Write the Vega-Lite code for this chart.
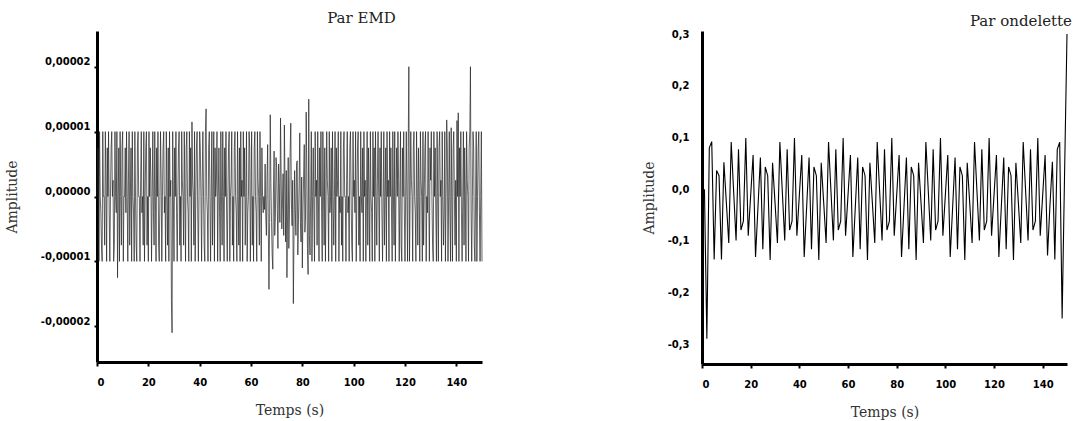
{
"$schema": "https://vega.github.io/schema/vega-lite/v6.json",
"padding": {"left": 5, "top": 11, "right": 2, "bottom": 2},
"spacing": 158,
"config": {
  "locale": {"number": {"decimal": ",", "thousands": " ", "grouping": [3], "currency": ["", " €"], "minus": "-"}},
  "view": {"stroke": null},
  "axis": {"grid": false, "domainColor": "black", "domainWidth": 3, "tickColor": "black", "tickWidth": 2, "tickSize": 4, "labelFont": "DejaVu Sans", "labelFontWeight": "bold", "labelFontSize": 10, "labelColor": "black", "titleFont": "DejaVu Serif", "titleFontWeight": "normal", "titleFontSize": 14, "titleColor": "#333"},
  "title": {"font": "DejaVu Serif", "fontSize": 15, "fontWeight": "normal", "color": "#222"}
},
"datasets": {
"emd": [
{"t":0,"v":0},{"t":0.25,"v":7.5e-6},{"t":0.5,"v":7.5e-6},{"t":0.75,"v":-1e-5},{"t":1,"v":1e-5},{"t":1.25,"v":0},{"t":1.5,"v":-2.5e-6},{"t":1.75,"v":-7.5e-6},{"t":2,"v":-1e-5},{"t":2.25,"v":1e-5},{"t":2.5,"v":0},{"t":2.75,"v":0},{"t":3,"v":-7.5e-6},{"t":3.25,"v":1e-5},{"t":3.5,"v":2.5e-6},{"t":3.75,"v":-1e-5},{"t":4,"v":7.5e-6},{"t":4.25,"v":0},{"t":4.5,"v":1e-5},{"t":4.75,"v":-2.5e-6},
{"t":5,"v":-1e-5},{"t":5.25,"v":0},{"t":5.5,"v":7.5e-6},{"t":5.75,"v":1e-5},{"t":6,"v":0},{"t":6.25,"v":2.5e-6},{"t":6.5,"v":-1e-5},{"t":6.75,"v":-7.5e-6},{"t":7,"v":1e-5},{"t":7.25,"v":0},{"t":7.5,"v":-2.5e-6},{"t":7.75,"v":1e-5},{"t":8,"v":-1.25e-5},{"t":8.25,"v":0},{"t":8.5,"v":7.5e-6},{"t":8.75,"v":-1e-5},{"t":9,"v":1e-5},{"t":9.25,"v":0},{"t":9.5,"v":-7.5e-6},{"t":9.75,"v":7.5e-6},
{"t":10,"v":1e-5},{"t":10.25,"v":-1e-5},{"t":10.5,"v":0},{"t":10.75,"v":0},{"t":11,"v":7.5e-6},{"t":11.25,"v":-2.5e-6},{"t":11.5,"v":1e-5},{"t":11.75,"v":0},{"t":12,"v":-1e-5},{"t":12.25,"v":2.5e-6},{"t":12.5,"v":1e-5},{"t":12.75,"v":-7.5e-6},{"t":13,"v":0},{"t":13.25,"v":7.5e-6},{"t":13.5,"v":-1e-5},{"t":13.75,"v":1e-5},{"t":14,"v":0},{"t":14.25,"v":-2.5e-6},{"t":14.5,"v":-1e-5},{"t":14.75,"v":1e-5},
{"t":15,"v":0},{"t":15.25,"v":-7.5e-6},{"t":15.5,"v":-1e-5},{"t":15.75,"v":7.5e-6},{"t":16,"v":1e-5},{"t":16.25,"v":0},{"t":16.5,"v":0},{"t":16.75,"v":-1e-5},{"t":17,"v":2.5e-6},{"t":17.25,"v":1e-5},{"t":17.5,"v":-2.5e-6},{"t":17.75,"v":0},{"t":18,"v":-7.5e-6},{"t":18.25,"v":1e-5},{"t":18.5,"v":-1e-5},{"t":18.75,"v":0},{"t":19,"v":7.5e-6},{"t":19.25,"v":1e-5},{"t":19.5,"v":-7.5e-6},{"t":19.75,"v":0},
{"t":20,"v":-1e-5},{"t":20.25,"v":1e-5},{"t":20.5,"v":0},{"t":20.75,"v":7.5e-6},{"t":21,"v":2.5e-6},{"t":21.25,"v":-1e-5},{"t":21.5,"v":0},{"t":21.75,"v":1e-5},{"t":22,"v":-2.5e-6},{"t":22.25,"v":-7.5e-6},{"t":22.5,"v":1e-5},{"t":22.75,"v":0},{"t":23,"v":-1e-5},{"t":23.25,"v":7.5e-6},{"t":23.5,"v":0},{"t":23.75,"v":1e-5},{"t":24,"v":-7.5e-6},{"t":24.25,"v":-1e-5},{"t":24.5,"v":0},{"t":24.75,"v":1e-5},
{"t":25,"v":2.5e-6},{"t":25.25,"v":-1e-5},{"t":25.5,"v":0},{"t":25.75,"v":7.5e-6},{"t":26,"v":1e-5},{"t":26.25,"v":-2.5e-6},{"t":26.5,"v":0},{"t":26.75,"v":-1e-5},{"t":27,"v":1e-5},{"t":27.25,"v":0},{"t":27.5,"v":-7.5e-6},{"t":27.75,"v":7.5e-6},{"t":28,"v":-1e-5},{"t":28.25,"v":1e-5},{"t":28.5,"v":0},{"t":28.75,"v":2.5e-6},{"t":29,"v":-1.6e-5},{"t":29.25,"v":-2.1e-5},{"t":29.5,"v":1e-5},{"t":29.75,"v":0},
{"t":30,"v":-1e-5},{"t":30.25,"v":7.5e-6},{"t":30.5,"v":0},{"t":30.75,"v":1e-5},{"t":31,"v":-2.5e-6},{"t":31.25,"v":-1e-5},{"t":31.5,"v":0},{"t":31.75,"v":7.5e-6},{"t":32,"v":1e-5},{"t":32.25,"v":-7.5e-6},{"t":32.5,"v":0},{"t":32.75,"v":-1e-5},{"t":33,"v":1e-5},{"t":33.25,"v":2.5e-6},{"t":33.5,"v":0},{"t":33.75,"v":-7.5e-6},{"t":34,"v":1e-5},{"t":34.25,"v":0},{"t":34.5,"v":-1e-5},{"t":34.75,"v":7.5e-6},
{"t":35,"v":1e-5},{"t":35.25,"v":0},{"t":35.5,"v":-2.5e-6},{"t":35.75,"v":-1e-5},{"t":36,"v":1e-5},{"t":36.25,"v":0},{"t":36.5,"v":7.5e-6},{"t":36.75,"v":-1e-5},{"t":37,"v":1.15e-5},{"t":37.25,"v":2.5e-6},{"t":37.5,"v":0},{"t":37.75,"v":-7.5e-6},{"t":38,"v":1e-5},{"t":38.25,"v":-1e-5},{"t":38.5,"v":0},{"t":38.75,"v":7.5e-6},{"t":39,"v":1e-5},{"t":39.25,"v":-2.5e-6},{"t":39.5,"v":-1e-5},{"t":39.75,"v":0},
{"t":40,"v":1e-5},{"t":40.25,"v":7.5e-6},{"t":40.5,"v":0},{"t":40.75,"v":-1e-5},{"t":41,"v":2.5e-6},{"t":41.25,"v":1e-5},{"t":41.5,"v":0},{"t":41.75,"v":-7.5e-6},{"t":42,"v":-1e-5},{"t":42.25,"v":1e-5},{"t":42.5,"v":1.35e-5},{"t":42.75,"v":0},{"t":43,"v":-2.5e-6},{"t":43.25,"v":-1e-5},{"t":43.5,"v":7.5e-6},{"t":43.75,"v":1e-5},{"t":44,"v":0},{"t":44.25,"v":-1e-5},{"t":44.5,"v":0},{"t":44.75,"v":1e-5},
{"t":45,"v":-7.5e-6},{"t":45.25,"v":0},{"t":45.5,"v":1e-5},{"t":45.75,"v":-1e-5},{"t":46,"v":7.5e-6},{"t":46.25,"v":0},{"t":46.5,"v":2.5e-6},{"t":46.75,"v":1e-5},{"t":47,"v":-1e-5},{"t":47.25,"v":0},{"t":47.5,"v":7.5e-6},{"t":47.75,"v":-2.5e-6},{"t":48,"v":-1e-5},{"t":48.25,"v":1e-5},{"t":48.5,"v":0},{"t":48.75,"v":-7.5e-6},{"t":49,"v":1e-5},{"t":49.25,"v":0},{"t":49.5,"v":-1e-5},{"t":49.75,"v":7.5e-6},
{"t":50,"v":0},{"t":50.25,"v":1e-5},{"t":50.5,"v":-2.5e-6},{"t":50.75,"v":-1e-5},{"t":51,"v":0},{"t":51.25,"v":7.5e-6},{"t":51.5,"v":1e-5},{"t":51.75,"v":-1e-5},{"t":52,"v":0},{"t":52.25,"v":2.5e-6},{"t":52.5,"v":1e-5},{"t":52.75,"v":-7.5e-6},{"t":53,"v":0},{"t":53.25,"v":-1e-5},{"t":53.5,"v":7.5e-6},{"t":53.75,"v":1e-5},{"t":54,"v":0},{"t":54.25,"v":-2.5e-6},{"t":54.5,"v":-1e-5},{"t":54.75,"v":1e-5},
{"t":55,"v":0},{"t":55.25,"v":-7.5e-6},{"t":55.5,"v":7.5e-6},{"t":55.75,"v":-1e-5},{"t":56,"v":1e-5},{"t":56.25,"v":0},{"t":56.5,"v":2.5e-6},{"t":56.75,"v":-1e-5},{"t":57,"v":1e-5},{"t":57.25,"v":0},{"t":57.5,"v":7.5e-6},{"t":57.75,"v":-7.5e-6},{"t":58,"v":0},{"t":58.25,"v":1e-5},{"t":58.5,"v":-1e-5},{"t":58.75,"v":-2.5e-6},{"t":59,"v":0},{"t":59.25,"v":1e-5},{"t":59.5,"v":7.5e-6},{"t":59.75,"v":-1e-5},
{"t":60,"v":0},{"t":60.25,"v":1e-5},{"t":60.5,"v":-7.5e-6},{"t":60.75,"v":0},{"t":61,"v":-1e-5},{"t":61.25,"v":7.5e-6},{"t":61.5,"v":1e-5},{"t":61.75,"v":0},{"t":62,"v":-2.5e-6},{"t":62.25,"v":-1e-5},{"t":62.5,"v":1e-5},{"t":62.75,"v":2.5e-6},{"t":63,"v":0},{"t":63.25,"v":-7.5e-6},{"t":63.5,"v":1e-5},{"t":63.75,"v":0},{"t":64,"v":-1e-5},{"t":64.25,"v":7.5e-6},{"t":64.5,"v":0},{"t":64.75,"v":-2.5e-6},
{"t":65,"v":0},
{"t":65.25,"v":-2e-6},{"t":65.5,"v":5e-6},{"t":65.75,"v":-3e-6},{"t":66,"v":-6e-6},{"t":66.25,"v":3e-6},{"t":66.5,"v":8e-6},{"t":66.75,"v":-5e-6},{"t":67,"v":-1.43e-5},{"t":67.25,"v":-4e-6},{"t":67.5,"v":1.26e-5},
{"t":67.75,"v":2e-6},{"t":68,"v":-4e-6},{"t":68.25,"v":-9e-6},{"t":68.5,"v":-1.12e-5},{"t":68.75,"v":1e-6},{"t":69,"v":7e-6},{"t":69.25,"v":-6e-6},{"t":69.5,"v":-3e-6},{"t":69.75,"v":6e-6},{"t":70,"v":4.5e-6},
{"t":70.25,"v":-2e-6},{"t":70.5,"v":-8e-6},{"t":70.75,"v":5e-6},{"t":71,"v":2e-6},{"t":71.25,"v":-4e-6},{"t":71.5,"v":1.21e-5},{"t":71.75,"v":3e-6},{"t":72,"v":-5e-6},{"t":72.25,"v":-1e-6},{"t":72.5,"v":3.5e-6},
{"t":72.75,"v":-6e-6},{"t":73,"v":1.1e-5},{"t":73.25,"v":2e-6},{"t":73.5,"v":-7e-6},{"t":73.75,"v":4e-6},{"t":74,"v":-1.25e-5},{"t":74.25,"v":-3e-6},{"t":74.5,"v":6e-6},{"t":74.75,"v":-8e-6},{"t":75,"v":-2e-6},
{"t":75.25,"v":7e-6},{"t":75.5,"v":1.13e-5},{"t":75.75,"v":-1e-6},{"t":76,"v":-4.5e-6},{"t":76.25,"v":2.5e-6},{"t":76.5,"v":-1.65e-5},{"t":76.75,"v":-6e-6},{"t":77,"v":4e-6},{"t":77.25,"v":-2e-6},{"t":77.5,"v":-6e-6},
{"t":77.75,"v":5e-6},{"t":78,"v":5.5e-6},{"t":78.25,"v":-9e-6},{"t":78.5,"v":-3.5e-6},{"t":78.75,"v":2e-6},{"t":79,"v":9.8e-6},{"t":79.25,"v":-4e-6},{"t":79.5,"v":-7e-6},{"t":79.75,"v":3e-6},{"t":80,"v":-1.1e-5},
{"t":80.25,"v":-2e-6},{"t":80.5,"v":3e-6},{"t":80.75,"v":8e-6},{"t":81,"v":-5.5e-6},{"t":81.25,"v":-3e-6},{"t":81.5,"v":1.3e-5},{"t":81.75,"v":4e-6},{"t":82,"v":-8e-6},{"t":82.25,"v":-1.2e-5},{"t":82.5,"v":1.5e-5},
{"t":82.75,"v":-6e-6},
{"t":83,"v":-9e-6},{"t":83.25,"v":0},{"t":83.5,"v":1e-5},{"t":83.75,"v":-1e-5},{"t":84,"v":0},{"t":84.25,"v":7.5e-6},{"t":84.5,"v":-2.5e-6},{"t":84.75,"v":-1e-5},{"t":85,"v":1e-5},{"t":85.25,"v":0},{"t":85.5,"v":2.5e-6},{"t":85.75,"v":-7.5e-6},{"t":86,"v":1e-5},{"t":86.25,"v":0},{"t":86.5,"v":-1e-5},{"t":86.75,"v":7.5e-6},{"t":87,"v":0},{"t":87.25,"v":1e-5},{"t":87.5,"v":-2.5e-6},{"t":87.75,"v":-1e-5},
{"t":88,"v":1e-5},{"t":88.25,"v":0},{"t":88.5,"v":-7.5e-6},{"t":88.75,"v":7.5e-6},{"t":89,"v":-1e-5},{"t":89.25,"v":0},{"t":89.5,"v":1e-5},{"t":89.75,"v":2.5e-6},{"t":90,"v":0},{"t":90.25,"v":-1e-5},{"t":90.5,"v":1e-5},{"t":90.75,"v":-2.5e-6},{"t":91,"v":0},{"t":91.25,"v":7.5e-6},{"t":91.5,"v":-1e-5},{"t":91.75,"v":1e-5},{"t":92,"v":0},{"t":92.25,"v":-7.5e-6},{"t":92.5,"v":0},{"t":92.75,"v":1e-5},
{"t":93,"v":-1e-5},{"t":93.25,"v":7.5e-6},{"t":93.5,"v":0},{"t":93.75,"v":2.5e-6},{"t":94,"v":1e-5},{"t":94.25,"v":-1e-5},{"t":94.5,"v":0},{"t":94.75,"v":-2.5e-6},{"t":95,"v":1e-5},{"t":95.25,"v":-7.5e-6},{"t":95.5,"v":0},{"t":95.75,"v":-1e-5},{"t":96,"v":7.5e-6},{"t":96.25,"v":1e-5},{"t":96.5,"v":0},{"t":96.75,"v":0},{"t":97,"v":-1e-5},{"t":97.25,"v":2.5e-6},{"t":97.5,"v":1e-5},{"t":97.75,"v":-2.5e-6},
{"t":98,"v":0},{"t":98.25,"v":-1e-5},{"t":98.5,"v":7.5e-6},{"t":98.75,"v":1e-5},{"t":99,"v":0},{"t":99.25,"v":-7.5e-6},{"t":99.5,"v":-1e-5},{"t":99.75,"v":1e-5},{"t":100,"v":0},{"t":100.25,"v":2.5e-6},{"t":100.5,"v":-2.5e-6},{"t":100.75,"v":1e-5},{"t":101,"v":-1e-5},{"t":101.25,"v":0},{"t":101.5,"v":7.5e-6},{"t":101.75,"v":1e-5},{"t":102,"v":-7.5e-6},{"t":102.25,"v":0},{"t":102.5,"v":-1e-5},{"t":102.75,"v":1e-5},
{"t":103,"v":0},{"t":103.25,"v":-2.5e-6},{"t":103.5,"v":7.5e-6},{"t":103.75,"v":-1e-5},{"t":104,"v":1e-5},{"t":104.25,"v":0},{"t":104.5,"v":2.5e-6},{"t":104.75,"v":-1e-5},{"t":105,"v":0},{"t":105.25,"v":1e-5},{"t":105.5,"v":-7.5e-6},{"t":105.75,"v":7.5e-6},{"t":106,"v":0},{"t":106.25,"v":-1e-5},{"t":106.5,"v":1e-5},{"t":106.75,"v":0},{"t":107,"v":-2.5e-6},{"t":107.25,"v":-1e-5},{"t":107.5,"v":1e-5},{"t":107.75,"v":0},
{"t":108,"v":7.5e-6},{"t":108.25,"v":-1e-5},{"t":108.5,"v":1e-5},{"t":108.75,"v":0},{"t":109,"v":-7.5e-6},{"t":109.25,"v":2.5e-6},{"t":109.5,"v":1e-5},{"t":109.75,"v":0},{"t":110,"v":-1e-5},{"t":110.25,"v":7.5e-6},{"t":110.5,"v":0},{"t":110.75,"v":1e-5},{"t":111,"v":-2.5e-6},{"t":111.25,"v":-1e-5},{"t":111.5,"v":0},{"t":111.75,"v":1e-5},{"t":112,"v":-7.5e-6},{"t":112.25,"v":0},{"t":112.5,"v":7.5e-6},{"t":112.75,"v":-1e-5},
{"t":113,"v":1e-5},{"t":113.25,"v":0},{"t":113.5,"v":2.5e-6},{"t":113.75,"v":-1e-5},{"t":114,"v":1e-5},{"t":114.25,"v":0},{"t":114.5,"v":7.5e-6},{"t":114.75,"v":-2.5e-6},{"t":115,"v":-1e-5},{"t":115.25,"v":1e-5},{"t":115.5,"v":0},{"t":115.75,"v":-7.5e-6},{"t":116,"v":1e-5},{"t":116.25,"v":-1e-5},{"t":116.5,"v":0},{"t":116.75,"v":7.5e-6},{"t":117,"v":0},{"t":117.25,"v":1e-5},{"t":117.5,"v":2.5e-6},{"t":117.75,"v":-1e-5},
{"t":118,"v":0},{"t":118.25,"v":1e-5},{"t":118.5,"v":-7.5e-6},{"t":118.75,"v":-1e-5},{"t":119,"v":7.5e-6},{"t":119.25,"v":0},{"t":119.5,"v":1e-5},{"t":119.75,"v":-2.5e-6},{"t":120,"v":-1e-5},{"t":120.25,"v":0},{"t":120.5,"v":1e-5},{"t":120.75,"v":0},{"t":121,"v":-1e-5},{"t":121.25,"v":7.5e-6},{"t":121.5,"v":2e-5},{"t":121.75,"v":-1e-5},{"t":122,"v":0},{"t":122.25,"v":1e-5},{"t":122.5,"v":2.5e-6},{"t":122.75,"v":0},
{"t":123,"v":-1e-5},{"t":123.25,"v":7.5e-6},{"t":123.5,"v":1e-5},{"t":123.75,"v":0},{"t":124,"v":-2.5e-6},{"t":124.25,"v":-1e-5},{"t":124.5,"v":1e-5},{"t":124.75,"v":0},{"t":125,"v":-7.5e-6},{"t":125.25,"v":7.5e-6},{"t":125.5,"v":0},{"t":125.75,"v":-1e-5},{"t":126,"v":1e-5},{"t":126.25,"v":2.5e-6},{"t":126.5,"v":0},{"t":126.75,"v":-1e-5},{"t":127,"v":1e-5},{"t":127.25,"v":-7.5e-6},{"t":127.5,"v":0},{"t":127.75,"v":7.5e-6},
{"t":128,"v":1e-5},{"t":128.25,"v":-1e-5},{"t":128.5,"v":0},{"t":128.75,"v":-2.5e-6},{"t":129,"v":1e-5},{"t":129.25,"v":0},{"t":129.5,"v":-1e-5},{"t":129.75,"v":7.5e-6},{"t":130,"v":2.5e-6},{"t":130.25,"v":1e-5},{"t":130.5,"v":0},{"t":130.75,"v":-7.5e-6},{"t":131,"v":-1e-5},{"t":131.25,"v":1e-5},{"t":131.5,"v":0},{"t":131.75,"v":7.5e-6},{"t":132,"v":-2.5e-6},{"t":132.25,"v":-1e-5},{"t":132.5,"v":1e-5},{"t":132.75,"v":0},
{"t":133,"v":-1e-5},{"t":133.25,"v":7.5e-6},{"t":133.5,"v":1e-5},{"t":133.75,"v":0},{"t":134,"v":2.5e-6},{"t":134.25,"v":-1e-5},{"t":134.5,"v":1e-5},{"t":134.75,"v":0},{"t":135,"v":-7.5e-6},{"t":135.25,"v":-2.5e-6},{"t":135.5,"v":1e-5},{"t":135.75,"v":-1e-5},{"t":136,"v":0},{"t":136.25,"v":1.18e-5},{"t":136.5,"v":7.5e-6},{"t":136.75,"v":-1e-5},{"t":137,"v":0},{"t":137.25,"v":1e-5},{"t":137.5,"v":-2.5e-6},{"t":137.75,"v":-1e-5},
{"t":138,"v":1.06e-5},{"t":138.25,"v":0},{"t":138.5,"v":-1e-5},{"t":138.75,"v":7.5e-6},{"t":139,"v":1e-5},{"t":139.25,"v":0},{"t":139.5,"v":-7.5e-6},{"t":139.75,"v":2.5e-6},{"t":140,"v":-1e-5},{"t":140.25,"v":1.17e-5},{"t":140.5,"v":0},{"t":140.75,"v":1.29e-5},{"t":141,"v":-1e-5},{"t":141.25,"v":7.5e-6},{"t":141.5,"v":0},{"t":141.75,"v":1e-5},{"t":142,"v":-2.5e-6},{"t":142.25,"v":-1e-5},{"t":142.5,"v":0},{"t":142.75,"v":1e-5},
{"t":143,"v":-7.5e-6},{"t":143.25,"v":7.5e-6},{"t":143.5,"v":0},{"t":143.75,"v":-1e-5},{"t":144,"v":1e-5},{"t":144.25,"v":2.5e-6},{"t":144.5,"v":0},{"t":144.75,"v":-1e-5},{"t":145,"v":7.5e-6},{"t":145.25,"v":1e-5},{"t":145.5,"v":2e-5},{"t":145.75,"v":-2.5e-6},{"t":146,"v":-1e-5},{"t":146.25,"v":0},{"t":146.5,"v":1e-5},{"t":146.75,"v":7.5e-6},{"t":147,"v":-7.5e-6},{"t":147.25,"v":-1e-5},{"t":147.5,"v":0},{"t":147.75,"v":1e-5},
{"t":148,"v":-1e-5},{"t":148.25,"v":0},{"t":148.5,"v":7.5e-6},{"t":148.75,"v":1e-5},{"t":149,"v":-2.5e-6},{"t":149.25,"v":-1e-5},{"t":149.5,"v":0},{"t":149.75,"v":1e-5},{"t":150,"v":-1e-5}
],
"ond": [
{"t":1,"v":0},{"t":2,"v":-0.289},{"t":3,"v":0.08},{"t":4,"v":0.092},{"t":5,"v":-0.136},{"t":6,"v":0.036},{"t":7,"v":0.026},{"t":8,"v":-0.136},{"t":9,"v":0.052},{"t":10,"v":-0.025},
{"t":11,"v":-0.104},{"t":12,"v":0.091},{"t":13,"v":-0.004},{"t":14,"v":-0.099},{"t":15,"v":0.077},{"t":16,"v":-0.079},{"t":17,"v":-0.062},{"t":18,"v":0.099},{"t":19,"v":-0.09},{"t":20,"v":-0.012},
{"t":21,"v":0.066},{"t":22,"v":-0.131},{"t":23,"v":-0.035},{"t":24,"v":0.061},{"t":25,"v":-0.116},{"t":26,"v":0.043},{"t":27,"v":0.026},{"t":28,"v":-0.137},{"t":29,"v":0.051},{"t":30,"v":-0.025},
{"t":31,"v":-0.104},{"t":32,"v":0.091},{"t":33,"v":-0.004},{"t":34,"v":-0.099},{"t":35,"v":0.077},{"t":36,"v":-0.079},{"t":37,"v":-0.062},{"t":38,"v":0.099},{"t":39,"v":-0.09},{"t":40,"v":-0.012},
{"t":41,"v":0.066},{"t":42,"v":-0.131},{"t":43,"v":-0.035},{"t":44,"v":0.061},{"t":45,"v":-0.116},{"t":46,"v":0.043},{"t":47,"v":0.026},{"t":48,"v":-0.137},{"t":49,"v":0.051},{"t":50,"v":-0.025},
{"t":51,"v":-0.104},{"t":52,"v":0.091},{"t":53,"v":-0.004},{"t":54,"v":-0.099},{"t":55,"v":0.077},{"t":56,"v":-0.079},{"t":57,"v":-0.062},{"t":58,"v":0.099},{"t":59,"v":-0.09},{"t":60,"v":-0.012},
{"t":61,"v":0.066},{"t":62,"v":-0.131},{"t":63,"v":-0.035},{"t":64,"v":0.061},{"t":65,"v":-0.116},{"t":66,"v":0.043},{"t":67,"v":0.026},{"t":68,"v":-0.137},{"t":69,"v":0.051},{"t":70,"v":-0.025},
{"t":71,"v":-0.104},{"t":72,"v":0.091},{"t":73,"v":-0.004},{"t":74,"v":-0.099},{"t":75,"v":0.077},{"t":76,"v":-0.079},{"t":77,"v":-0.062},{"t":78,"v":0.099},{"t":79,"v":-0.09},{"t":80,"v":-0.012},
{"t":81,"v":0.066},{"t":82,"v":-0.131},{"t":83,"v":-0.035},{"t":84,"v":0.061},{"t":85,"v":-0.116},{"t":86,"v":0.043},{"t":87,"v":0.026},{"t":88,"v":-0.137},{"t":89,"v":0.051},{"t":90,"v":-0.025},
{"t":91,"v":-0.104},{"t":92,"v":0.091},{"t":93,"v":-0.004},{"t":94,"v":-0.099},{"t":95,"v":0.077},{"t":96,"v":-0.079},{"t":97,"v":-0.062},{"t":98,"v":0.099},{"t":99,"v":-0.09},{"t":100,"v":-0.012},
{"t":101,"v":0.066},{"t":102,"v":-0.131},{"t":103,"v":-0.035},{"t":104,"v":0.061},{"t":105,"v":-0.116},{"t":106,"v":0.043},{"t":107,"v":0.026},{"t":108,"v":-0.137},{"t":109,"v":0.051},{"t":110,"v":-0.025},
{"t":111,"v":-0.104},{"t":112,"v":0.091},{"t":113,"v":-0.004},{"t":114,"v":-0.099},{"t":115,"v":0.077},{"t":116,"v":-0.079},{"t":117,"v":-0.062},{"t":118,"v":0.099},{"t":119,"v":-0.09},{"t":120,"v":-0.012},
{"t":121,"v":0.066},{"t":122,"v":-0.131},{"t":123,"v":-0.035},{"t":124,"v":0.061},{"t":125,"v":-0.116},{"t":126,"v":0.043},{"t":127,"v":0.026},{"t":128,"v":-0.137},{"t":129,"v":0.051},{"t":130,"v":-0.025},
{"t":131,"v":-0.104},{"t":132,"v":0.091},{"t":133,"v":-0.004},{"t":134,"v":-0.099},{"t":135,"v":0.077},{"t":136,"v":-0.079},{"t":137,"v":-0.062},{"t":138,"v":0.099},{"t":139,"v":-0.09},{"t":140,"v":-0.012},
{"t":141,"v":0.066},{"t":142,"v":-0.128},{"t":143,"v":-0.03},{"t":144,"v":0.053},{"t":145,"v":-0.136},{"t":146,"v":0.077},{"t":147,"v":0.091},{"t":148,"v":-0.25},{"t":149,"v":0.03},{"t":150,"v":0.3}
]
},
"hconcat": [
{
  "width": 385, "height": 331,
  "title": {"text": "Par EMD", "anchor": "middle", "frame": "group", "dx": 72, "offset": 5},
  "data": {"name": "emd"},
  "mark": {"type": "line", "stroke": "#222", "strokeWidth": 0.7},
  "encoding": {
    "x": {"field": "t", "type": "quantitative", "scale": {"domain": [0, 150], "nice": false},
          "axis": {"values": [0, 20, 40, 60, 80, 100, 120, 140], "title": "Temps (s)", "labelPadding": 11, "titlePadding": 16}},
    "y": {"field": "v", "type": "quantitative", "scale": {"domain": [-0.0000255, 0.0000255], "nice": false, "zero": false},
          "axis": {"values": [-0.00002, -0.00001, 0, 0.00001, 0.00002], "format": ".5f", "tickSize": 3, "labelPadding": 4, "labelOffset": -5, "title": "Amplitude", "titlePadding": 21}}
  }
},
{
  "width": 365, "height": 333,
  "title": {"text": "Par ondelette", "anchor": "end", "frame": "group", "dx": 5, "dy": 5, "offset": 5},
  "data": {"name": "ond"},
  "mark": {"type": "line", "stroke": "black", "strokeWidth": 1.1},
  "encoding": {
    "x": {"field": "t", "type": "quantitative", "scale": {"domain": [0, 150], "nice": false},
          "axis": {"values": [0, 20, 40, 60, 80, 100, 120, 140], "title": "Temps (s)", "labelPadding": 11, "titlePadding": 16}},
    "y": {"field": "v", "type": "quantitative", "scale": {"domain": [-0.338, 0.3058], "nice": false, "zero": false},
          "axis": {"values": [-0.3, -0.2, -0.1, 0, 0.1, 0.2, 0.3], "format": ".1f", "ticks": false, "labelPadding": 13, "title": "Amplitude", "titlePadding": 11}}
  }
}
]
}
